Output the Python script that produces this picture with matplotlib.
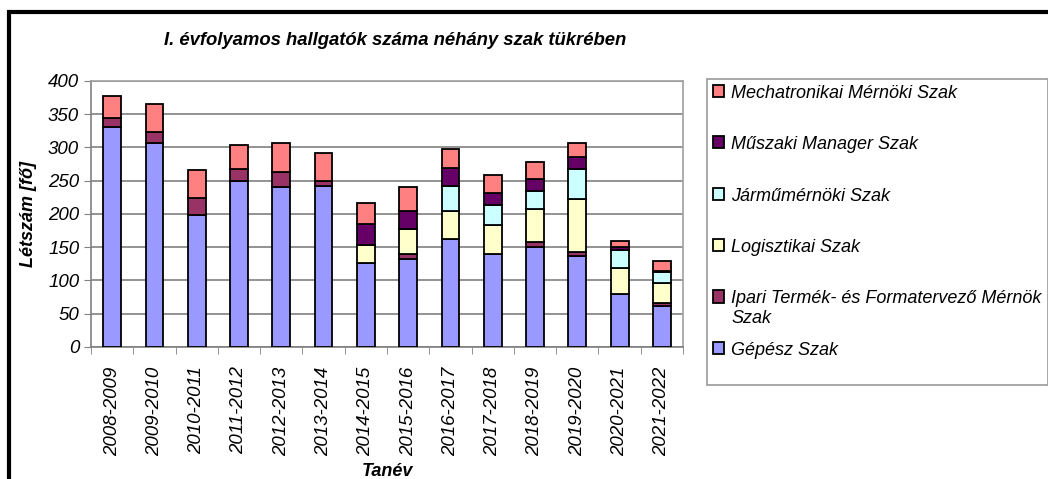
import matplotlib.pyplot as plt
import matplotlib.patches as mpatches
import numpy as np

plt.rcParams['font.family'] = ['Liberation Sans', 'DejaVu Sans']

years = ["2008-2009", "2009-2010", "2010-2011", "2011-2012", "2012-2013",
         "2013-2014", "2014-2015", "2015-2016", "2016-2017", "2017-2018",
         "2018-2019", "2019-2020", "2020-2021", "2021-2022"]

gepesz = [331, 307, 199, 249, 240, 242, 127, 133, 162, 140, 151, 137, 79, 61]
ipari = [14, 17, 25, 19, 23, 8, 0, 7, 0, 0, 7, 6, 1, 5]
logisztikai = [0, 0, 0, 0, 0, 0, 26, 38, 43, 43, 49, 79, 39, 30]
jarmu = [0, 0, 0, 0, 0, 0, 0, 0, 37, 30, 27, 46, 27, 17]
muszaki = [0, 0, 0, 0, 0, 0, 32, 27, 27, 18, 18, 17, 4, 1]
mechatronikai = [33, 41, 42, 36, 44, 41, 31, 36, 29, 28, 26, 22, 10, 16]

# every legend slot is two lines tall, like in the Excel original
series = [
    ("Gépész Szak\n", gepesz, "#9999FF"),
    ("Ipari Termék- és Formatervező Mérnök\nSzak", ipari, "#993366"),
    ("Logisztikai Szak\n", logisztikai, "#FFFFCC"),
    ("Járműmérnöki Szak\n", jarmu, "#CCFFFF"),
    ("Műszaki Manager Szak\n", muszaki, "#660066"),
    ("Mechatronikai Mérnöki Szak\n", mechatronikai, "#FF8080"),
]

fig = plt.figure(figsize=(10.48, 4.79), dpi=100)
ax = fig.add_axes([0.0868, 0.2756, 0.565, 0.5553])

x = np.arange(len(years))
bottom = np.zeros(len(years))
handles = []
for name, vals, color in series:
    bars = ax.bar(x, vals, width=0.42, bottom=bottom, color=color,
                  edgecolor="black", linewidth=1.3, label=name, zorder=3)
    handles.append(bars)
    bottom += np.array(vals)

ax.set_xlim(-0.5, len(years) - 0.5)
ax.set_ylim(0, 400)
ax.set_yticks(range(0, 401, 50))
ax.set_xticks(x)
ax.set_xticklabels(years, rotation=90, fontsize=13.5, style="italic")
ax.set_xticks(np.arange(-0.5, len(years), 1), minor=True)
ax.tick_params(axis="x", which="major", length=0, pad=14)
ax.tick_params(axis="x", which="minor", length=5, color="#808080", direction="out")
ax.tick_params(axis="y", length=5, color="#808080", direction="out", labelsize=13.5)
for lab in ax.get_yticklabels():
    lab.set_fontstyle("italic")

ax.grid(axis="y", color="#808080", linewidth=1.2, zorder=0)
for side in ["top", "right"]:
    ax.spines[side].set_color("#a0a0a0")
    ax.spines[side].set_linewidth(1.2)
for side in ["left", "bottom"]:
    ax.spines[side].set_color("#808080")
    ax.spines[side].set_linewidth(1.2)

ax.set_ylabel("Létszám [fő]", fontsize=13, fontweight="bold", style="italic", labelpad=8)
ax.set_xlabel("Tanév", fontsize=13, fontweight="bold", style="italic", labelpad=5)
fig.text(0.377, 0.915, "I. évfolyamos hallgatók száma néhány szak tükrében",
         fontsize=13.3, fontweight="bold", style="italic", ha="center", va="center")

leg = fig.legend(handles[::-1], [s[0] for s in series[::-1]],
                 loc="upper left", bbox_to_anchor=(0.6746, 0.836),
                 prop={"size": 13, "style": "italic"}, frameon=True,
                 fancybox=False, edgecolor="#808080", labelspacing=0.82,
                 handlelength=0.6, handleheight=0.65, handletextpad=0.4,
                 borderpad=0.35, borderaxespad=0)
leg.get_frame().set_linewidth(1.2)
# handles sit next to the first line of each label
for col in leg._legend_handle_box.get_children():
    for row in col.get_children():
        row.align = "top"

# outer chart border
fig.patches.append(mpatches.Rectangle((0.0086, -0.1), 1.1, 1.075,
                                      transform=fig.transFigure, fill=False,
                                      edgecolor="black", linewidth=3))

fig.savefig("out.png", dpi=100)
